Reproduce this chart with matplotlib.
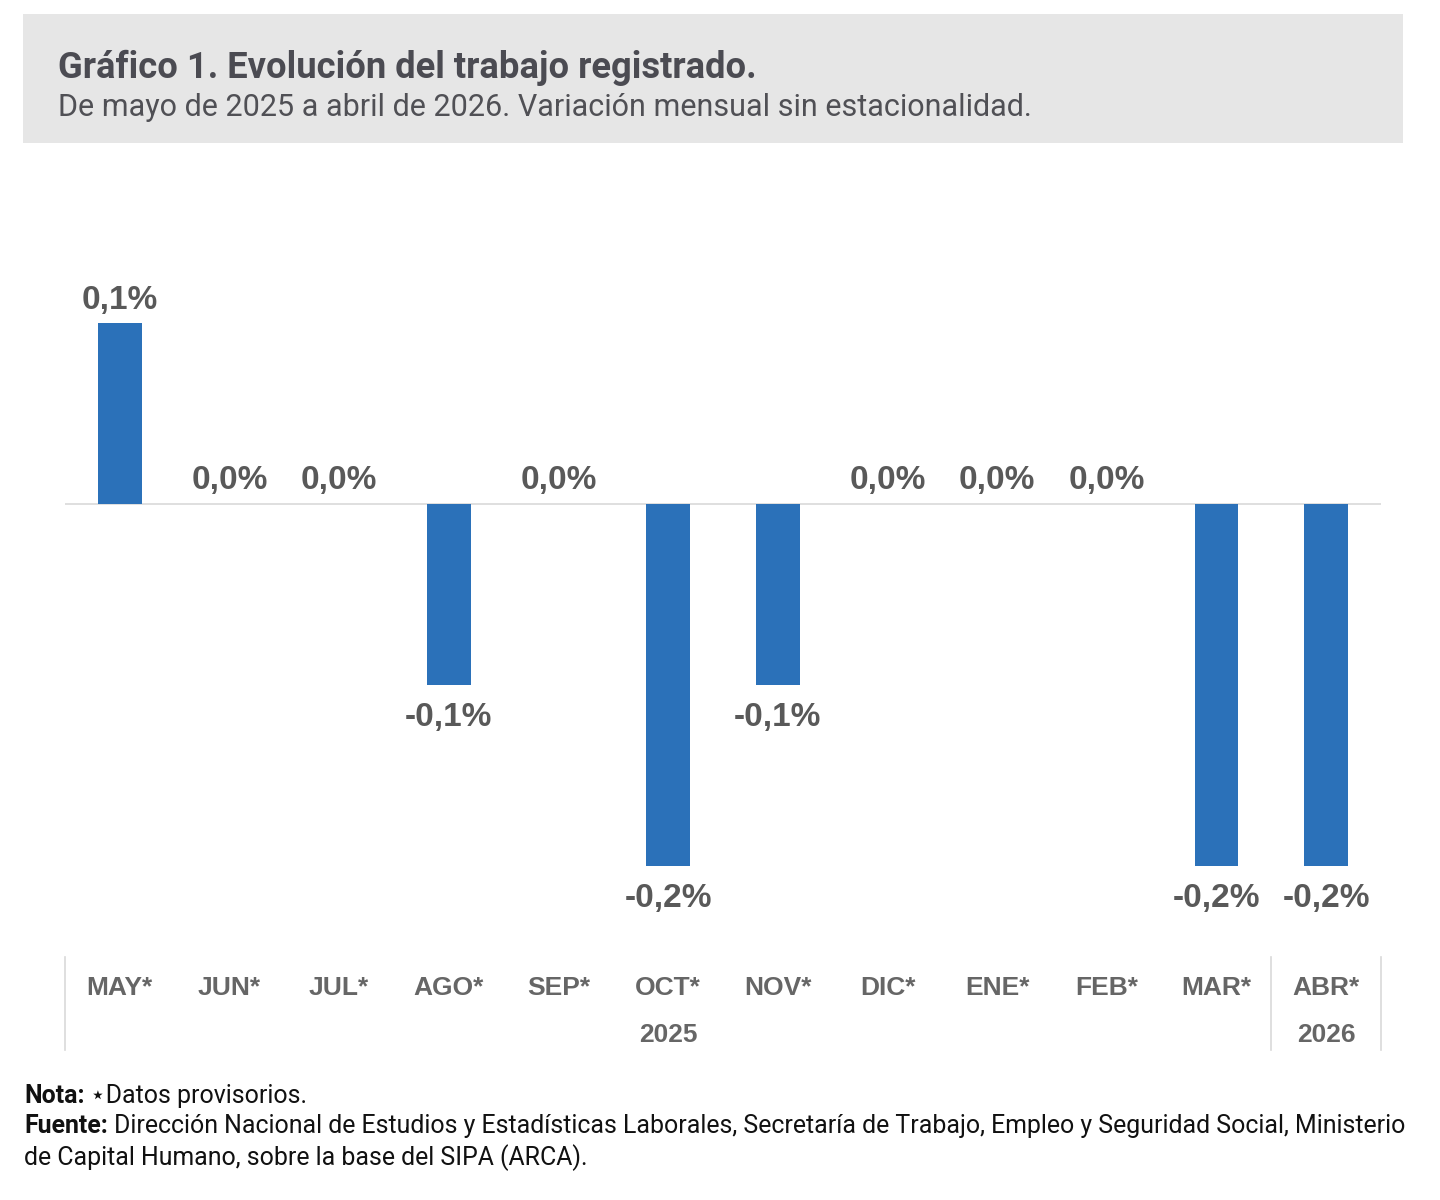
import matplotlib.pyplot as plt
import matplotlib.transforms as mtransforms
from matplotlib.patches import Rectangle
from matplotlib.lines import Line2D

# datos
meses = ["MAY*", "JUN*", "JUL*", "AGO*", "SEP*", "OCT*",
         "NOV*", "DIC*", "ENE*", "FEB*", "MAR*", "ABR*"]
variacion = [0.1, 0.0, 0.0, -0.1, 0.0, -0.2, -0.1, 0.0, 0.0, 0.0, -0.2, -0.2]
anios = ["2025", "2026"]
anio_pos = [5, 11]          # donde va centrado cada año
separadores = [-0.5, 10.5, 11.5]

titulo = "Gráfico 1. Evolución del trabajo registrado."
subtitulo = "De mayo de 2025 a abril de 2026. Variación mensual sin estacionalidad."

W, H = 1440, 1200


def fy(p):
    return 1 - p / H


def main():
    fig = plt.figure(figsize=(14.4, 12), dpi=100)
    fig.patch.set_facecolor("white")

    # cabecera gris
    fig.add_artist(Rectangle((23 / W, fy(143)), (1403 - 23) / W, (143 - 14) / H,
                             transform=fig.transFigure, facecolor="#e6e6e6",
                             edgecolor="none", zorder=0))
    fig.text(58 / W, fy(68), titulo, fontsize=26.2, fontweight="bold",
             family="Roboto", color="#4b4b52", va="center", ha="left")
    fig.text(58 / W, fy(107), subtitulo, fontsize=22,
             family="Roboto", color="#505055", va="center", ha="left")

    # ejes del gráfico
    top, bot = 200, 940
    ax = fig.add_axes([65 / W, fy(bot), (1381 - 65) / W, (bot - top) / H])
    ax.set_xlim(-0.5, 11.5)
    ax.set_ylim((504 - bot) / 1810, (504 - top) / 1810)
    ax.axis("off")

    x = list(range(len(meses)))
    ax.bar(x, variacion, width=0.4, color="#2b71b9", zorder=2)
    ax.axhline(0, color="#d9d9d9", lw=1.2, zorder=1)

    for i, v in enumerate(variacion):
        txt = "{:.1f}%".format(v).replace(".", ",")
        if v > 0:
            off, va = 5, "bottom"
        elif v < 0:
            off, va = -12.5, "top"
        else:
            off, va = 6, "bottom"
        ax.annotate(txt, (i, v), xytext=(0, off), textcoords="offset points",
                    ha="center", va=va, fontsize=24, fontweight="bold",
                    family="Liberation Sans", color="#595959")

    # etiquetas del eje x
    trans = mtransforms.blended_transform_factory(ax.transData, fig.transFigure)
    for i, m in enumerate(meses):
        fig.text(i, fy(988), m, transform=trans, ha="center", va="center",
                 fontsize=19, fontweight="bold", family="Liberation Sans",
                 color="#666666")
    for a, p in zip(anios, anio_pos):
        fig.text(p, fy(1035), a, transform=trans, ha="center", va="center",
                 fontsize=19, fontweight="bold", family="Liberation Sans",
                 color="#666666")
    for s in separadores:
        fig.add_artist(Line2D([s, s], [fy(957), fy(1050)], transform=trans,
                              color="#d9d9d9", lw=1.2))

    # notas
    fam = ["Roboto", "DejaVu Sans"]
    fs = 17.9
    lineas = [("Nota:", " \u22c6Datos provisorios."),
              ("Fuente:", " Dirección Nacional de Estudios y Estadísticas Laborales, "
               "Secretaría de Trabajo, Empleo y Seguridad Social, Ministerio")]
    ys = [1096, 1126]
    for (b, r), yy in zip(lineas, ys):
        t = fig.text(24 / W, fy(yy), b, fontsize=fs, fontweight="bold",
                     family=fam, color="#111111", va="center", ha="left")
        ax.annotate(r, xy=(1, 0.5), xycoords=t, va="center", ha="left",
                    fontsize=fs, family=fam, color="#111111",
                    annotation_clip=False)
    fig.text(24 / W, fy(1158), "de Capital Humano, sobre la base del SIPA (ARCA).",
             fontsize=fs, family=fam, color="#111111", va="center", ha="left")

    fig.savefig("out.png", dpi=100)


if __name__ == "__main__":
    main()
